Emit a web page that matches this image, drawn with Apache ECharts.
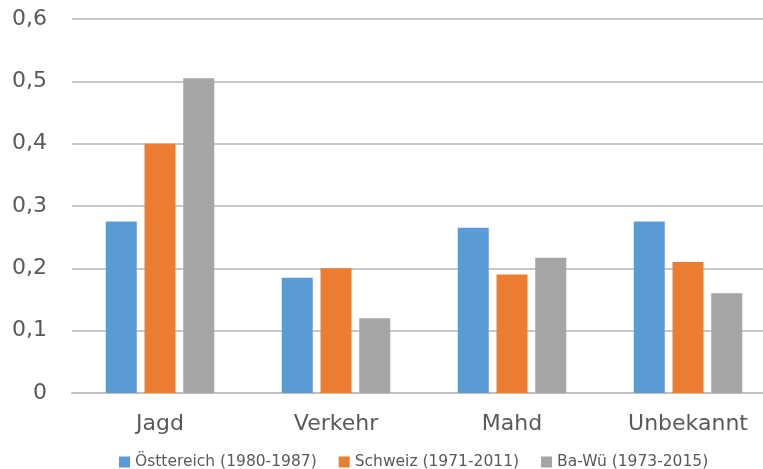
<!DOCTYPE html>
<html>
<head>
<meta charset="utf-8">
<script src="https://cdn.jsdelivr.net/npm/echarts@6/dist/echarts.min.js"></script>
<style>html,body{margin:0;padding:0;background:#fff;}#c{width:763px;height:469px;}</style>
</head>
<body>
<div id="c"></div>
<script>
var categories = ['Jagd', 'Verkehr', 'Mahd', 'Unbekannt'];
var seriesNames = ['Östtereich (1980-1987)', 'Schweiz (1971-2011)', 'Ba-Wü (1973-2015)'];
var oesterreich = [0.275, 0.185, 0.265, 0.275];
var schweiz = [0.4, 0.2, 0.19, 0.21];
var bawue = [0.505, 0.12, 0.217, 0.16];
var colors = ['#5B9BD5', '#ED7D31', '#A5A5A5'];

var chart = echarts.init(document.getElementById('c'), null, {renderer: 'canvas'});
var font = '"DejaVu Sans", "Open Sans", sans-serif';
function mk(name, data, color) {
  return {name: name, type: 'bar', data: data, barWidth: 31, barGap: '25%',
    itemStyle: {color: color}};
}
chart.setOption({
  animation: false,
  textStyle: {fontFamily: font},
  grid: {left: 72, top: 19, width: 704, height: 374, containLabel: false, outerBoundsMode: 'none'},
  legend: {
    top: 449, left: 114,
    itemWidth: 11, itemHeight: 11, itemGap: 22,
    icon: 'rect',
    textStyle: {color: '#595959', fontSize: 15.5, fontFamily: font},
    data: seriesNames
  },
  xAxis: {
    type: 'category', data: categories,
    axisLine: {lineStyle: {color: '#BFBFBF', width: 2}},
    axisTick: {show: false},
    axisLabel: {color: '#595959', fontSize: 22, margin: 20, fontFamily: font}
  },
  yAxis: {
    type: 'value', min: 0, max: 0.6, interval: 0.1,
    axisLine: {show: false}, axisTick: {show: false},
    splitLine: {lineStyle: {color: '#C8C8C8', width: 2}},
    axisLabel: {color: '#595959', fontSize: 22, margin: 25, fontFamily: font,
      formatter: function (v) { return v === 0 ? '0' : v.toFixed(1).replace('.', ','); }}
  },
  series: [
    mk(seriesNames[0], oesterreich, colors[0]),
    mk(seriesNames[1], schweiz, colors[1]),
    mk(seriesNames[2], bawue, colors[2])
  ]
});
</script>
</body>
</html>
